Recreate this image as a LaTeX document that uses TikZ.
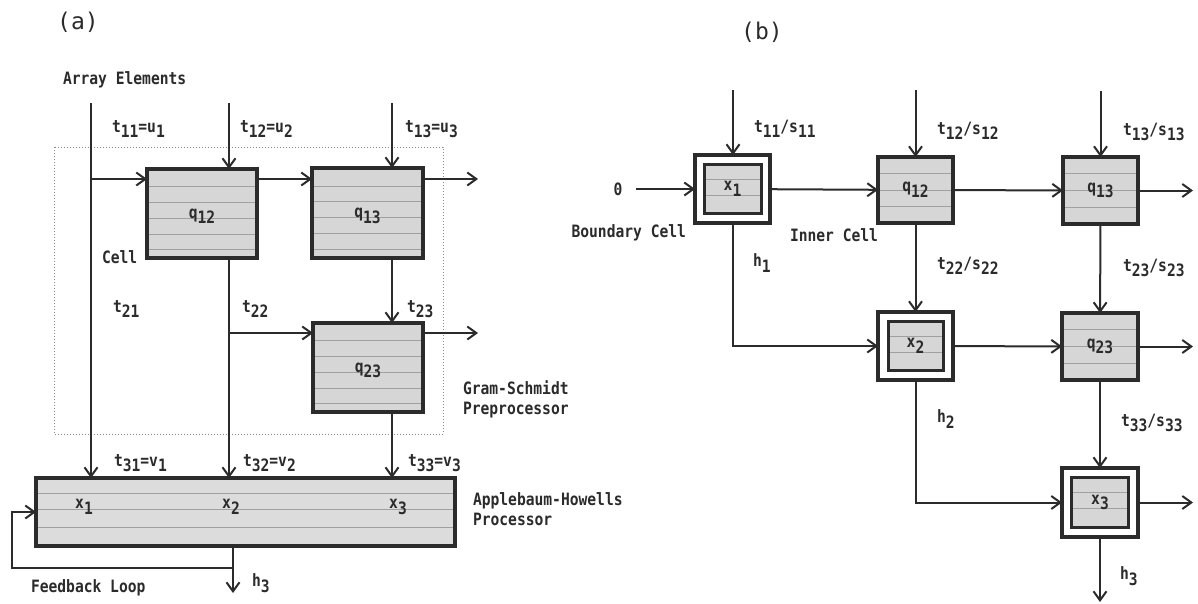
\documentclass[tikz,border=0pt]{standalone}
\usepackage{fontspec}
\newfontfamily\labfont[FakeStretch=0.86]{DejaVu Sans Mono}
\newfontfamily\titfont{DejaVu Sans Mono}
\usetikzlibrary{arrows.meta,calc}
\definecolor{ink}{HTML}{2B2B2B}
\definecolor{cellfill}{HTML}{D6D6D6}
\definecolor{ahfill}{HTML}{DCDCDC}
\definecolor{hatch}{HTML}{A0A0A0}
\definecolor{dotcol}{HTML}{8A8A8A}
\newcommand\lw[1]{\raisebox{-0.6ex}{#1}}
\begin{document}
\begin{tikzpicture}[x=1pt,y=-1pt,
  every node/.style={font=\labfont\bfseries\fontsize{17}{20}\selectfont, text=ink, inner sep=0pt, outer sep=0pt},
  conn/.style={draw=ink, line width=2pt, -{Straight Barb[length=9pt,width=13pt,line width=2pt]}},
  lbl/.style={anchor=west},
  hatched/.style={path picture={\foreach \hf in {#1}{\draw[hatch,line width=0.7pt] ($(path picture bounding box.north west)!\hf!(path picture bounding box.south west)$) -- ($(path picture bounding box.north east)!\hf!(path picture bounding box.south east)$);}}},
  qcell/.style={draw=ink, line width=3.5pt, fill=cellfill},
  icell/.style={draw=ink, line width=3pt, fill=cellfill, hatched={0.3,0.62}},
  xouter/.style={draw=ink, line width=3.5pt, fill=white},
  title/.style={font=\titfont\fontsize{23}{26}\selectfont}
]
\useasboundingbox (0,0) rectangle (1198,603);
\fill[white] (0,0) rectangle (1198,603);

% ---------------- panel (a) ----------------
\node[title] (ta) at (78,22) {(a)};
\node[lbl] (arr) at (63,80) {Array Elements};

\draw[dotcol, line width=1pt, dash pattern=on 1pt off 2pt] (54,147) rectangle (443,434);

\node[qcell, hatched={0.2,0.37,0.55,0.73,0.9}, minimum width=110, minimum height=89, text depth=-6pt] (q12a) at (202,213.5) {q\lw{12}};
\node[qcell, hatched={0.2,0.37,0.55,0.73,0.9}, minimum width=111, minimum height=90, text depth=-6pt] (q13a) at (367.5,213) {q\lw{13}};
\node[qcell, hatched={0.2,0.37,0.55,0.73,0.9}, minimum width=110, minimum height=89, text depth=-6pt] (q23a) at (368,367.5) {q\lw{23}};
\node[draw=ink, line width=3.5pt, fill=ahfill, hatched={0.22,0.46,0.72}, minimum width=419, minimum height=68] (AH) at (245.5,512) {};
\node (x1a) at (84,507) {x\lw{1}};
\node (x2a) at (231,507) {x\lw{2}};
\node (x3a) at (398,507) {x\lw{3}};

\coordinate (top1) at (91,103);
\coordinate (top2) at (229,103);
\coordinate (top3) at (392,103);
\coordinate (br1) at (91,179);
\coordinate (br2) at (229,333);
\coordinate (out1) at (478,179);
\coordinate (out2) at (478,333);
\coordinate (fb) at (233,568);
\coordinate (fbl1) at (12,568);
\coordinate (fbl2) at (12,512);
\coordinate (h3a) at (233,593);

\draw[conn] (top1) -- (top1 |- AH.north);
\draw[conn] (br1) -- (br1 -| q12a.west);
\draw[conn] (top2) -- (top2 |- q12a.north);
\draw[conn] (top2 |- q12a.south) -- (top2 |- AH.north);
\draw[conn] (br2) -- (br2 -| q23a.west);
\draw[conn] (q12a.east |- br1) -- (q13a.west |- br1);
\draw[conn] (q13a.east |- br1) -- (out1);
\draw[conn] (top3) -- (top3 |- q13a.north);
\draw[conn] (top3 |- q13a.south) -- (top3 |- q23a.north);
\draw[conn] (top3 |- q23a.south) -- (top3 |- AH.north);
\draw[conn] (q23a.east |- br2) -- (out2);
\draw[conn] (fb |- AH.south) -- (h3a);
\draw[conn] (fb) -- (fbl1) -- (fbl2) -- (fbl2 -| AH.west);

\node[lbl] (l11) at (112,129) {t\lw{11}=u\lw{1}};
\node[lbl] (l12) at (240,129) {t\lw{12}=u\lw{2}};
\node[lbl] (l13) at (405,129) {t\lw{13}=u\lw{3}};
\node[lbl] (cell) at (102,257) {Cell};
\node[lbl] (l21) at (113,309) {t\lw{21}};
\node[lbl] (l22) at (242,309) {t\lw{22}};
\node[lbl] (l23) at (407,309) {t\lw{23}};
\node[lbl, align=left] (gs) at (463,399) {Gram-Schmidt\\Preprocessor};
\node[lbl] (l31) at (114,463) {t\lw{31}=v\lw{1}};
\node[lbl] (l32) at (243,463) {t\lw{32}=v\lw{2}};
\node[lbl] (l33) at (408,463) {t\lw{33}=v\lw{3}};
\node[lbl, align=left] (ahp) at (473,509) {Applebaum-Howells\\Processor};
\node[lbl] (h3la) at (252,583) {h\lw{3}};
\node[lbl] (fbt) at (31,588) {Feedback Loop};

% ---------------- panel (b) ----------------
\node[title] (tb) at (762,32) {(b)};

\node[xouter, minimum width=75, minimum height=68] (x1b) at (732.5,189) {};
\node[icell, minimum width=57, minimum height=49] (x1bi) at (x1b) {x\lw{1}};
\node[qcell, hatched={0.25,0.5,0.75}, minimum width=75, minimum height=66] (q12b) at (915.5,190) {q\lw{12}};
\node[qcell, hatched={0.25,0.5,0.75}, minimum width=75, minimum height=67] (q13b) at (1100.5,190.5) {q\lw{13}};
\node[xouter, minimum width=75, minimum height=68] (x2b) at (915.5,346) {};
\node[icell, minimum width=55, minimum height=49] (x2bi) at (x2b) {x\lw{2}};
\node[qcell, hatched={0.25,0.5,0.75}, minimum width=76, minimum height=67] (q23b) at (1100,346.5) {q\lw{23}};
\node[xouter, minimum width=76, minimum height=69] (x3b) at (1100,502.5) {};
\node[icell, minimum width=57, minimum height=50] (x3bi) at (x3b) {x\lw{3}};

\node (zero) at (618,189) {0};
\coordinate (tb1) at (733,90);
\coordinate (tb2) at (915.5,90);
\coordinate (tb3) at (1100.5,91);
\coordinate (ob1) at (1193,190.5);
\coordinate (ob2) at (1193,346.5);
\coordinate (ob3) at (1193,502.5);
\coordinate (ob4) at (1100,602);

\draw[conn] (tb1) -- (tb1 |- x1b.north);
\draw[conn] (tb2) -- (q12b.north);
\draw[conn] (tb3) -- (q13b.north);
\draw[conn, shorten <=14pt] (zero) -- (x1b.west);
\draw[conn] (x1b) -- (q12b);
\draw[conn] (q12b) -- (q13b);
\draw[conn] (q13b) -- (ob1);
\draw[conn] (q12b) -- (x2b);
\draw[conn] (q13b) -- (q23b);
\draw[conn] (x1b.south) |- (x2b.west);
\draw[conn] (x2b) -- (q23b);
\draw[conn] (q23b) -- (ob2);
\draw[conn] (x2b.south) |- (x3b.west);
\draw[conn] (q23b) -- (x3b);
\draw[conn] (x3b) -- (ob3);
\draw[conn] (x3b) -- (ob4);

\node[lbl] (s11) at (754,129) {t\lw{11}/s\lw{11}};
\node[lbl] (s12) at (937,131) {t\lw{12}/s\lw{12}};
\node[lbl] (s13) at (1123,132) {t\lw{13}/s\lw{13}};
\node[anchor=east] (bc) at (686,233) {Boundary Cell};
\node[lbl] (ic) at (790,235) {Inner Cell};
\node[lbl] (h1b) at (753,263) {h\lw{1}};
\node[lbl] (s22) at (937,266) {t\lw{22}/s\lw{22}};
\node[lbl] (s23) at (1123,268) {t\lw{23}/s\lw{23}};
\node[lbl] (h2b) at (937,419) {h\lw{2}};
\node[lbl] (s33) at (1121,423) {t\lw{33}/s\lw{33}};
\node[lbl] (h3b) at (1120,576) {h\lw{3}};
\end{tikzpicture}
\end{document}
